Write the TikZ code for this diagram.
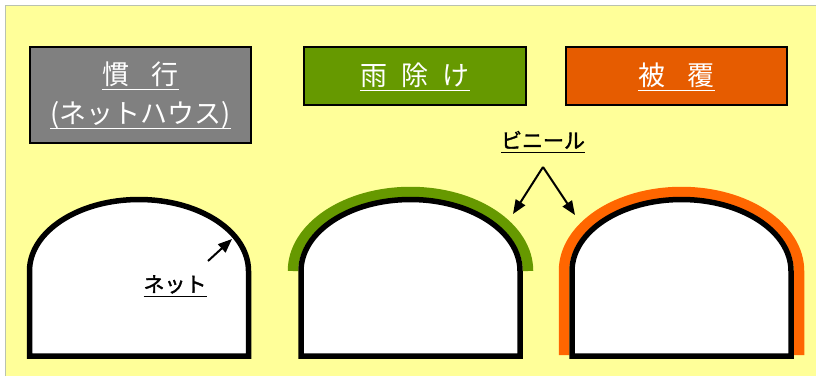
\documentclass[tikz,border=0pt]{standalone}
\usepackage{fontspec}
\setmainfont{Noto Sans CJK JP}
\newfontface\tagface[FakeBold=1.6]{Noto Sans CJK JP}
\usetikzlibrary{positioning,arrows.meta}
\definecolor{bgyellow}{HTML}{FFFF99}
\definecolor{framegray}{HTML}{B9C2B0}
\definecolor{boxgray}{HTML}{808080}
\definecolor{boxgreen}{HTML}{669900}
\definecolor{boxorange}{HTML}{E65C00}
\definecolor{filmgreen}{HTML}{669900}
\definecolor{filmorange}{HTML}{FF6600}
\newcommand{\ulabel}[1]{\underline{\smash{#1}\rule[-0.12em]{0pt}{1em}}}
\tikzset{
  headbox/.style={draw=black, line width=2pt, inner sep=0pt, text=white,
    font=\fontsize{27pt}{39pt}\selectfont, align=center},
  tag/.style={inner sep=0pt, font=\tagface\fontsize{21pt}{25pt}\selectfont},
  pointer/.style={-{Triangle[length=14pt,width=11pt]}, line width=2pt},
  tunnel/.style={draw=black, fill=white, line width=5.5pt},
  film/.style={line width=10.5pt}
}

\begin{document}
\begin{tikzpicture}[x=1pt, y=1pt]

             \useasboundingbox (0,0) rectangle (816,376);
             \fill [bgyellow] (5,0) rectangle (816,370);
             \draw [framegray, line width=1pt] (5,0) -- (5,370) -- (816,370);

             \node (kanko) [headbox, fill=boxgray, minimum width=221pt, minimum height=96pt]
                   at (140.5,281) {\ulabel{慣\hspace{0.85em}行}\\\ulabel{(ネットハウス)}};
             \node (amayoke) [headbox, fill=boxgreen, minimum width=222pt, minimum height=58pt,
                   right=51pt of kanko.north east, anchor=north west]
                   {\ulabel{雨\hspace{0.52em}除\hspace{0.52em}け}};
             \node (hifuku) [headbox, fill=boxorange, minimum width=221pt, minimum height=58pt,
                   right=38pt of amayoke.north east, anchor=north west]
                   {\ulabel{被\hspace{0.85em}覆}};

             \draw [film, filmgreen] (293,105) arc [start angle=180, end angle=0, x radius=117.5pt, y radius=79pt];
             \draw [film, filmorange] (564,21) -- (564,105)
                   arc [start angle=180, end angle=0, x radius=117.5pt, y radius=79pt] -- (799,21);

             \draw [tunnel] (29.5,20) -- (29.5,105)
                   arc [start angle=180, end angle=0, x radius=109.5pt, y radius=71.5pt] -- (248.5,20) -- cycle;
             \draw [tunnel] (301,20) -- (301,105)
                   arc [start angle=180, end angle=0, x radius=109.5pt, y radius=71.5pt] -- (520,20) -- cycle;
             \draw [tunnel] (572,20) -- (572,105)
                   arc [start angle=180, end angle=0, x radius=109.5pt, y radius=71.5pt] -- (791,20) -- cycle;

             \coordinate (fork) at (543,209);
             \node (vinyl) [tag, above=14pt of fork] {\ulabel{ビニール}};
             \coordinate (tipgreen) at (513,162);
             \coordinate (tiporange) at (575,161);
             \draw [pointer] (fork) -- (tipgreen);
             \draw [pointer] (fork) -- (tiporange);

             \node (netto) [tag, anchor=base] at (175,84) {\ulabel{ネット}};
             \coordinate (netstart) at (208,115);
             \coordinate (nettip) at (232,137);
             \draw [pointer] (netstart) -- (nettip);
          \end{tikzpicture}
\end{document}
